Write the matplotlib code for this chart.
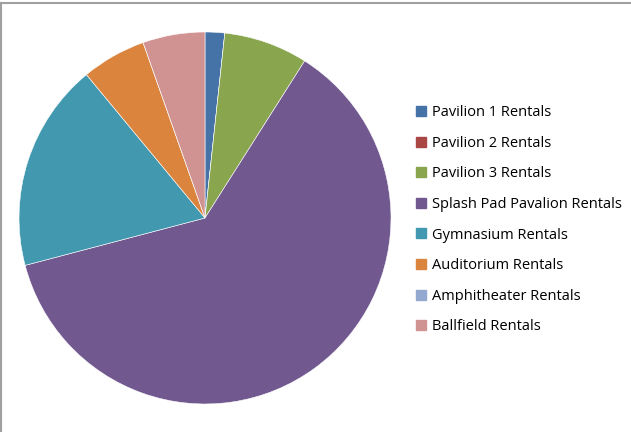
import matplotlib
matplotlib.use("Agg")
import matplotlib.pyplot as plt
from matplotlib.lines import Line2D

# rental share by facility (percent)
labels = ["Pavilion 1 Rentals", "Pavilion 2 Rentals", "Pavilion 3 Rentals",
          "Splash Pad Pavalion Rentals", "Gymnasium Rentals", "Auditorium Rentals",
          "Amphitheater Rentals", "Ballfield Rentals"]
values = [1.7, 0, 7.3, 61.9, 18.1, 5.6, 0, 5.4]
colors = ["#4572A7", "#AA4643", "#89A54E", "#71588F",
          "#4198AF", "#DB843D", "#93A9CF", "#D19392"]

fig = plt.figure(figsize=(6.31, 4.32), dpi=100)
ax = fig.add_axes([19/631, 1 - 404/432, 372/631, 372/432])

ax.pie(values, colors=colors, startangle=90, counterclock=False,
       wedgeprops=dict(edgecolor="white", linewidth=0.4))
ax.set_xlim(-1, 1)
ax.set_ylim(-1, 1)
ax.set_aspect("equal")

# legend on the right
handles = [Line2D([0], [0], marker="s", linestyle="", markersize=7,
                  markerfacecolor=c, markeredgecolor=c) for c in colors]
fig.legend(handles, labels, loc="upper left", bbox_to_anchor=(399/631, 1 - 92/432),
           frameon=False, labelspacing=1.07, handletextpad=0.15,
           handlelength=1.2, prop={"family": "Open Sans", "size": 10.5})

# thin gray frame on top and left
fig.add_artist(Line2D([0, 1], [1 - 2.5/432, 1 - 2.5/432], color="#a0a0a0", lw=1.5,
                      transform=fig.transFigure))
fig.add_artist(Line2D([1/631, 1/631], [0, 1 - 2.5/432], color="#a0a0a0", lw=1.5,
                      transform=fig.transFigure))

fig.savefig("out.png", dpi=100)
